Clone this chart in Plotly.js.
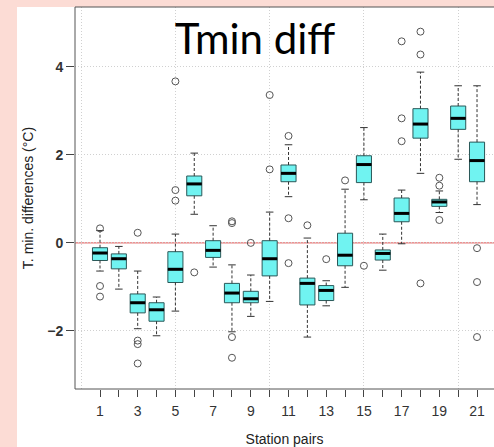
<!DOCTYPE html>
<html>
<head>
<meta charset="utf-8">
<script src="https://cdn.plot.ly/plotly-3.0.1.min.js"></script>
<style>html,body{margin:0;padding:0;background:#fcdcd5;}#chart{width:494px;height:447px;}</style>
</head>
<body>
<div id="chart"></div>
<script>
// Station pair numbers
const pairs = [1,2,3,4,5,6,7,8,9,10,11,12,13,14,15,16,17,18,19,20,21];
// Box statistics (°C)
const lowWhisker = [-0.64,-1.05,-1.95,-2.11,-1.55,0.65,-0.55,-2.02,-1.67,-1.33,1.05,-2.14,-1.43,-1.01,0.98,-0.62,-0.02,1.58,0.69,1.90,0.87];
const q1Vals     = [-0.40,-0.59,-1.59,-1.78,-0.90,1.07,-0.33,-1.36,-1.36,-0.75,1.39,-1.41,-1.31,-0.52,1.37,-0.39,0.48,2.38,0.83,2.58,1.39];
const medianVals = [-0.23,-0.36,-1.36,-1.52,-0.60,1.34,-0.17,-1.14,-1.27,-0.36,1.58,-0.92,-1.08,-0.28,1.78,-0.24,0.67,2.70,0.93,2.83,1.87];
const q3Vals     = [-0.11,-0.25,-1.16,-1.36,-0.20,1.52,0.05,-0.92,-1.10,0.05,1.77,-0.80,-0.97,0.22,1.98,-0.16,1.02,3.05,0.99,3.11,2.29];
const highWhisker= [0.28,-0.08,-0.64,-1.23,0.20,2.04,0.39,-0.50,-0.73,0.70,2.23,0.11,-0.86,1.22,2.62,0.20,1.20,3.88,1.18,3.57,3.57];
// Outliers
const outlierPair = [1,1,1, 3,3,3,3, 5,5,5, 6, 8,8,8,8, 9, 10,10, 11,11,11, 12, 13, 14, 15, 17,17,17, 18,18,18, 19,19,19, 21,21,21];
const outlierVal  = [0.33,-0.98,-1.22, 0.23,-2.22,-2.30,-2.74, 3.67,1.20,0.96, -0.67, 0.45,0.49,-2.14,-2.61, 0.0, 3.36,1.67, 2.43,0.56,-0.46, 0.40, -0.37, 1.42, -0.52, 4.58,2.83,2.31, 4.80,4.28,-0.92, 1.48,1.30,0.52, -0.12,-0.89,-2.14];
// Axis ticks
const xTickVals = pairs;
const xTickText = pairs.map(p => (p % 2 === 1 ? String(p) : ''));
const yTickVals = [-2, 0, 2, 4];
const xGridVals = [0, 5, 10, 15, 20];

const boxHalf = 0.4, capHalf = 0.2;

// build segments from data
const whX = [], whY = [], capX = [], capY = [], medX = [], medY = [];
pairs.forEach((p, i) => {
  whX.push(p, p, null, p, p, null);
  whY.push(q1Vals[i], lowWhisker[i], null, q3Vals[i], highWhisker[i], null);
  capX.push(p - capHalf, p + capHalf, null, p - capHalf, p + capHalf, null);
  capY.push(lowWhisker[i], lowWhisker[i], null, highWhisker[i], highWhisker[i], null);
  medX.push(p - boxHalf, p + boxHalf, null);
  medY.push(medianVals[i], medianVals[i], null);
});

const data = [
  {type:'scatter', mode:'lines', x: whX, y: whY, line:{color:'#333', width:1, dash:'3px,2px'}, hoverinfo:'skip', showlegend:false},
  {type:'scatter', mode:'lines', x: capX, y: capY, line:{color:'#333', width:1}, hoverinfo:'skip', showlegend:false},
  {type:'box', x: pairs, q1: q1Vals, median: medianVals, q3: q3Vals, lowerfence: q1Vals, upperfence: q3Vals,
   width: 2*boxHalf, whiskerwidth: 0, fillcolor:'#70f3f1', line:{color:'#2a5858', width:1}, boxpoints:false, showlegend:false},
  {type:'scatter', mode:'lines', x: medX, y: medY, line:{color:'#000', width:3}, hoverinfo:'skip', showlegend:false},
  {type:'scatter', mode:'markers', x: outlierPair, y: outlierVal,
   marker:{symbol:'circle-open', size:7, color:'#555', line:{width:1, color:'#555'}}, showlegend:false}
];

const layout = {
  width: 494, height: 447,
  margin: {l: 75, r: 0, t: 7, b: 58},
  paper_bgcolor: '#fcdcd5',
  plot_bgcolor: '#ffffff',
  font: {family: 'Liberation Sans, Arial, sans-serif', color: '#333'},
  title: {text: 'Tmin diff', x: 255/494, xref:'container', xanchor: 'center', y: 1 - 39/447, yref:'container', yanchor: 'middle',
          font: {family: 'Lato, sans-serif', size: 42, color: '#000'}},
  xaxis: {
    range: [-0.326, 21.90], tickmode: 'array', tickvals: xTickVals, ticktext: xTickText,
    ticks: 'outside', ticklen: 7, tickcolor: '#444', tickwidth: 1, ticklabelstandoff: 2,
    showgrid: false, zeroline: false, showline: false,
    tickfont: {size: 14, color: '#333'},
    minor: {tickmode: 'array', tickvals: xGridVals, showgrid: true, gridcolor: '#d0d0d0', griddash: '1px,2px', gridwidth: 1, ticks: ''},
    title: {text: 'Station pairs', font: {size: 14, color: '#222'}, standoff: 27}
  },
  yaxis: {
    range: [-3.32, 5.36], tickmode: 'array', tickvals: yTickVals,
    ticks: 'outside', ticklen: 8, tickcolor: '#444', tickwidth: 1,
    showgrid: true, gridcolor: '#d0d0d0', griddash: '1px,2px', gridwidth: 1,
    zeroline: false, showline: false,
    tickfont: {size: 14, color: '#333', weight: 'bold'},
    title: {text: 'T. min. differences (°C)', font: {size: 14, color: '#222'}, standoff: 10}
  },
  shapes: [
    {type:'rect', xref:'paper', yref:'paper', x0: (17-75)/419, x1: 1.2, y0: -0.3, y1: 1, fillcolor:'#ffffff', line:{width:0}, layer:'below'},
    {type:'line', xref:'paper', yref:'y', x0: 0, x1: 1, y0: 0, y1: 0, line:{color:'#e05050', width:1}, layer:'between'},
    {type:'rect', xref:'paper', yref:'paper', x0: 0, x1: 1.2, y0: 0, y1: 1, line:{color:'#555', width:1}, fillcolor:'rgba(0,0,0,0)', layer:'above'}
  ]
};

Plotly.newPlot('chart', data, layout, {staticPlot: true});
</script>
</body>
</html>
